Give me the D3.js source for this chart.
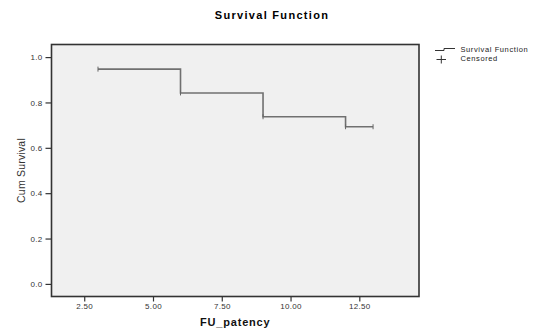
<!DOCTYPE html>
<html>
<head>
<meta charset="utf-8">
<script src="https://cdn.jsdelivr.net/npm/d3@7"></script>
<style>
  html, body { margin: 0; padding: 0; background: #ffffff; }
  svg { display: block; }
  text { font-family: Arial, "Liberation Sans", sans-serif; }
</style>
</head>
<body>
<svg id="chart" width="536" height="331"></svg>
<script>
// ---- data ----
const times = [3, 6, 9, 12, 13];
const survival = [0.947, 0.842, 0.737, 0.693, 0.693];
const censoredTimes = [3, 6, 9, 12, 13];
const censoredValues = [0.947, 0.842, 0.737, 0.693, 0.693];
const xTicks = [2.5, 5, 7.5, 10, 12.5];
const yTicks = [0, 0.2, 0.4, 0.6, 0.8, 1.0];
const legendLabels = ["Survival Function", "Censored"];

// ---- layout ----
const box = { left: 51.5, right: 419, top: 44.5, bottom: 296.5 };
const svg = d3.select("#chart");

const x = d3.scaleLinear().domain([1.31, 14.67]).range([box.left, box.right]);
const y = d3.scaleLinear().domain([-0.0555, 1.0555]).range([box.bottom, box.top]);

// plot background
svg.append("rect")
  .attr("x", box.left).attr("y", box.top)
  .attr("width", box.right - box.left).attr("height", box.bottom - box.top)
  .attr("fill", "#f0f0f0");

// axes
const yAxis = d3.axisLeft(y).tickValues(yTicks).tickFormat(d3.format(".1f")).tickSize(6).tickPadding(3);
const xAxis = d3.axisBottom(x).tickValues(xTicks).tickFormat(d3.format(".2f")).tickSize(5).tickPadding(2);

const gy = svg.append("g").attr("transform", `translate(${box.left},0)`).call(yAxis);
const gx = svg.append("g").attr("transform", `translate(0,${box.bottom})`).call(xAxis);
[gy, gx].forEach(g => {
  g.select(".domain").remove();
  g.selectAll(".tick line").attr("stroke", "#333").attr("stroke-width", 1.2);
  g.selectAll(".tick text").attr("fill", "#333").attr("font-size", 8).attr("letter-spacing", 0.3);
});

// frame
svg.append("rect")
  .attr("x", box.left).attr("y", box.top)
  .attr("width", box.right - box.left).attr("height", box.bottom - box.top)
  .attr("fill", "none").attr("stroke", "#333").attr("stroke-width", 1.6);

// step line
const pts = times.map((t, i) => [t, survival[i]]);
const line = d3.line().x(d => x(d[0])).y(d => y(d[1])).curve(d3.curveStepAfter);
svg.append("path")
  .attr("d", line(pts))
  .attr("fill", "none").attr("stroke", "#707070").attr("stroke-width", 1.6);

// censored marks
svg.append("g").selectAll("line").data(censoredTimes.map((t, i) => [t, censoredValues[i]]))
  .join("line")
  .attr("x1", d => x(d[0])).attr("x2", d => x(d[0]))
  .attr("y1", d => y(d[1]) - 2.5).attr("y2", d => y(d[1]) + 2.5)
  .attr("stroke", "#666").attr("stroke-width", 1);

// title
svg.append("text")
  .attr("x", 272).attr("y", 18.5)
  .attr("text-anchor", "middle")
  .attr("font-size", 11).attr("font-weight", "bold").attr("letter-spacing", 1.3)
  .attr("fill", "#000")
  .text("Survival Function");

// x axis title
svg.append("text")
  .attr("x", (box.left + box.right) / 2).attr("y", 325.5)
  .attr("text-anchor", "middle")
  .attr("font-size", 11).attr("font-weight", "bold").attr("letter-spacing", 0.8)
  .attr("fill", "#111")
  .text("FU_patency");

// y axis title
svg.append("text")
  .attr("transform", `translate(25,${(box.top + box.bottom) / 2}) rotate(-90)`)
  .attr("text-anchor", "middle")
  .attr("font-size", 10.5).attr("letter-spacing", 0.2)
  .attr("fill", "#333")
  .text("Cum Survival");

// legend
const lg = svg.append("g");
lg.append("path")
  .attr("d", d3.line()([[435, 50.5], [444, 50.5], [444, 48.5], [455, 48.5]]))
  .attr("fill", "none").attr("stroke", "#333").attr("stroke-width", 1);
lg.append("line").attr("x1", 436.5).attr("x2", 446).attr("y1", 59.5).attr("y2", 59.5)
  .attr("stroke", "#333").attr("stroke-width", 1);
lg.append("line").attr("x1", 441.3).attr("x2", 441.3).attr("y1", 55.5).attr("y2", 63.5)
  .attr("stroke", "#333").attr("stroke-width", 1);
lg.selectAll("text.lab").data(legendLabels).join("text")
  .attr("class", "lab")
  .attr("x", 460.5).attr("y", (d, i) => 52 + i * 9.3)
  .attr("font-size", 7.5).attr("letter-spacing", 0.6)
  .attr("fill", "#222")
  .text(d => d);
</script>
</body>
</html>
